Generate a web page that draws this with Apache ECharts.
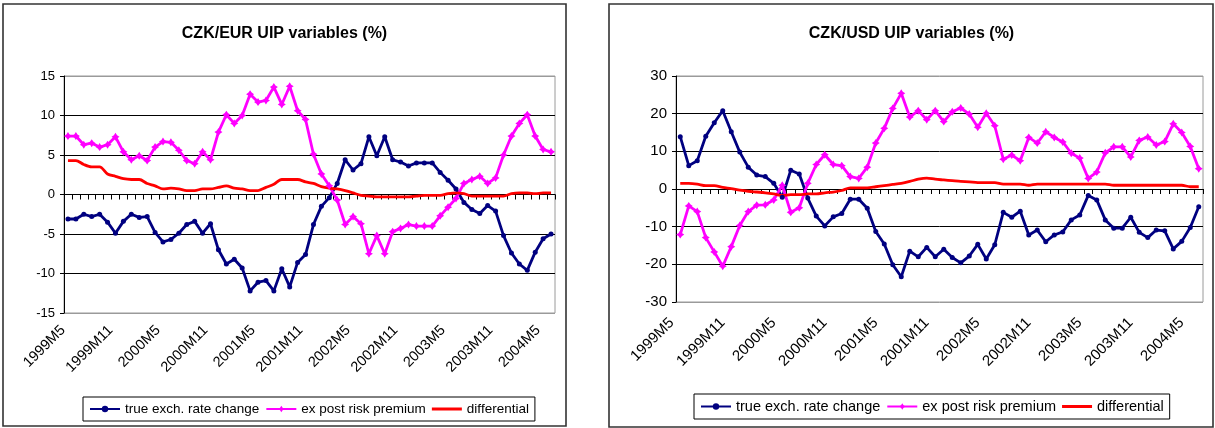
<!DOCTYPE html>
<html>
<head>
<meta charset="utf-8">
<script src="https://cdn.jsdelivr.net/npm/echarts@6/dist/echarts.min.js"></script>
<style>
  html, body { margin: 0; padding: 0; background: #fff; }
  #chart { width: 1215px; height: 428px; }
</style>
</head>
<body>
<div id="chart"></div>
<script>
// Monthly observations, 1999M5 - 2004M6
const months = [
  '1999M5','1999M6','1999M7','1999M8','1999M9','1999M10','1999M11','1999M12',
  '2000M1','2000M2','2000M3','2000M4','2000M5','2000M6','2000M7','2000M8','2000M9','2000M10','2000M11','2000M12',
  '2001M1','2001M2','2001M3','2001M4','2001M5','2001M6','2001M7','2001M8','2001M9','2001M10','2001M11','2001M12',
  '2002M1','2002M2','2002M3','2002M4','2002M5','2002M6','2002M7','2002M8','2002M9','2002M10','2002M11','2002M12',
  '2003M1','2003M2','2003M3','2003M4','2003M5','2003M6','2003M7','2003M8','2003M9','2003M10','2003M11','2003M12',
  '2004M1','2004M2','2004M3','2004M4','2004M5','2004M6'
];

const seriesNames = ['true exch. rate change', 'ex post risk premium', 'differential'];

// CZK/EUR (%)
const eurTrueChange = [
  -3.1, -3.1, -2.5, -2.8, -2.5, -3.5, -4.9, -3.4, -2.5, -2.9,
  -2.8, -4.8, -6.0, -5.7, -4.9, -3.8, -3.4, -4.9, -3.7, -7.0,
  -8.8, -8.2, -9.3, -12.2, -11.1, -10.9, -12.2, -9.4, -11.7, -8.6,
  -7.6, -3.8, -1.5, -0.4, 1.4, 4.4, 3.1, 3.9, 7.3, 4.9,
  7.3, 4.4, 4.1, 3.6, 4.0, 4.0, 4.0, 2.8, 1.8, 0.7,
  -1.0, -1.9, -2.4, -1.4, -2.1, -5.2, -7.4, -8.8, -9.6, -7.3,
  -5.6, -5.0
];
const eurRiskPremium = [
  7.4, 7.4, 6.3, 6.5, 6.0, 6.3, 7.3, 5.4, 4.4, 4.9,
  4.3, 6.0, 6.7, 6.6, 5.6, 4.3, 3.9, 5.4, 4.4, 7.9,
  10.1, 9.0, 10.0, 12.7, 11.7, 11.9, 13.6, 11.4, 13.7, 10.6,
  9.5, 5.1, 2.6, 1.1, -0.7, -3.8, -2.8, -3.7, -7.5, -5.2,
  -7.5, -4.7, -4.3, -3.8, -4.0, -4.0, -4.0, -2.7, -1.6, -0.5,
  1.4, 1.9, 2.3, 1.4, 2.1, 5.0, 7.4, 9.0, 10.1, 7.4,
  5.7, 5.4
];
const eurDifferential = [
  4.3, 4.3, 3.8, 3.5, 3.5, 2.6, 2.3, 2.0, 1.9, 1.9,
  1.4, 1.1, 0.7, 0.8, 0.7, 0.5, 0.5, 0.7, 0.7, 0.9,
  1.1, 0.8, 0.7, 0.5, 0.5, 0.9, 1.3, 1.9, 1.9, 1.9,
  1.6, 1.4, 1.0, 0.8, 0.7, 0.5, 0.2, -0.1, -0.2, -0.3,
  -0.3, -0.3, -0.3, -0.3, -0.2, -0.1, -0.1, -0.1, 0.1, 0.2,
  0.1, -0.2, -0.2, -0.2, -0.2, -0.2, 0.1, 0.2, 0.2, 0.1,
  0.2, 0.2
];

// CZK/USD (%)
const usdTrueChange = [
  13.9, 6.2, 7.5, 14.0, 17.6, 20.8, 15.2, 9.8, 5.8, 3.7,
  3.3, 1.5, -2.2, 5.0, 4.0, -2.4, -7.2, -9.8, -7.4, -6.5,
  -2.7, -2.7, -5.1, -11.3, -14.6, -20.1, -23.3, -16.5, -18.0, -15.5,
  -18.0, -16.0, -18.2, -19.6, -17.8, -14.7, -18.6, -14.8, -6.2, -7.5,
  -5.9, -12.2, -10.9, -14.0, -12.2, -11.4, -8.2, -6.9, -1.7, -2.9,
  -8.2, -10.4, -10.4, -7.5, -11.5, -12.9, -10.9, -11.1, -15.9, -13.9,
  -10.2, -4.7
];
const usdRiskPremium = [
  -12.1, -4.5, -6.0, -12.9, -16.7, -20.5, -15.3, -9.7, -6.0, -4.3,
  -4.2, -2.9, 1.0, -6.2, -5.0, 1.5, 6.5, 9.1, 6.5, 6.2,
  3.3, 2.8, 5.8, 12.2, 16.1, 21.4, 25.4, 19.1, 20.8, 18.4,
  20.8, 17.9, 20.5, 21.5, 19.9, 16.4, 20.1, 16.8, 7.9, 9.0,
  7.5, 13.7, 12.2, 15.2, 13.7, 12.5, 9.5, 8.2, 2.8, 4.5,
  9.6, 11.2, 11.2, 8.5, 12.9, 13.8, 11.7, 12.6, 17.3, 15.0,
  11.3, 5.4
];
const usdDifferential = [
  1.5, 1.5, 1.3, 0.9, 0.9, 0.4, 0.1, -0.3, -0.6, -0.8,
  -1.0, -1.3, -1.7, -1.5, -1.5, -1.3, -1.3, -1.0, -0.8, -0.4,
  0.3, 0.3, 0.3, 0.6, 0.9, 1.2, 1.5, 2.0, 2.6, 2.9,
  2.6, 2.4, 2.2, 2.0, 1.9, 1.7, 1.7, 1.7, 1.3, 1.3,
  1.3, 1.0, 1.3, 1.3, 1.3, 1.3, 1.3, 1.3, 1.3, 1.3,
  1.3, 1.0, 1.0, 1.0, 1.0, 1.0, 1.0, 1.0, 1.0, 1.0,
  0.6, 0.6
];

const FONT = 'Liberation Sans, Arial, sans-serif';
const NAVY = '#000080', MAGENTA = '#FF00FF', RED = '#FF0000';
const STAR = 'path://M0,-10 L4,-4 L10,0 L4,4 L0,10 L-4,4 L-10,0 L-4,-4 Z';
const BAR = 'path://M0,0 L30,0 L30,3 L0,3 Z';

// One panel = box, title, grid, two category axes (labels at the bottom,
// tick line on zero), a value axis, a legend and three line series.
function panel(idx, cfg) {
  const gridLines = ['#9a9a9a', '#000', '#000', '#000', '#000', '#000', '#9a9a9a'];
  return {
    grid: {
      left: cfg.grid[0], top: cfg.grid[1], width: cfg.grid[2], height: cfg.grid[3],
      show: true, borderColor: '#9a9a9a', borderWidth: 1, backgroundColor: 'transparent'
    },
    xAxes: [
      {
        type: 'category', gridIndex: idx, data: months, position: 'bottom', boundaryGap: true,
        axisLine: { show: false, onZero: false },
        axisTick: { show: false },
        splitLine: { show: false },
        axisLabel: {
          rotate: 45, interval: 5, margin: cfg.xLabelMargin,
          padding: [0, cfg.xLabelShift, 0, 0],
          fontFamily: FONT, fontSize: cfg.xFont, color: '#000'
        }
      },
      {
        type: 'category', gridIndex: idx, data: months, position: 'bottom', boundaryGap: true,
        axisLine: { show: true, onZero: true, lineStyle: { color: '#000', width: 1 } },
        axisTick: { show: true, interval: 0, length: 5, lineStyle: { color: '#000', width: 1 } },
        axisLabel: { show: false },
        splitLine: { show: false }
      }
    ],
    yAxis: {
      type: 'value', gridIndex: idx, min: cfg.yMin, max: cfg.yMax, interval: cfg.yStep,
      axisLine: { show: true, lineStyle: { color: '#000', width: 1 } },
      axisTick: { show: true, length: 4, lineStyle: { color: '#000' } },
      axisLabel: { fontFamily: FONT, fontSize: cfg.yFont, color: '#000', margin: 9 },
      splitLine: { show: true, lineStyle: { color: gridLines, width: 1 } }
    },
    legend: {
      left: cfg.legend[0], top: cfg.legend[1], orient: 'horizontal',
      data: [seriesNames[0], seriesNames[1], { name: seriesNames[2], icon: BAR }],
      borderColor: '#000', borderWidth: 1, padding: cfg.legendPad,
      itemGap: 6, itemWidth: 30, itemHeight: 8,
      textStyle: { fontFamily: FONT, fontSize: cfg.legendFont, color: '#000' }
    },
    series: [
      {
        name: seriesNames[0], type: 'line', xAxisIndex: idx * 2, yAxisIndex: idx,
        data: cfg.data[0], symbol: 'circle', symbolSize: 5,
        showSymbol: true, showAllSymbol: true,
        lineStyle: { color: NAVY, width: 2.8 }, itemStyle: { color: NAVY },
        animation: false
      },
      {
        name: seriesNames[1], type: 'line', xAxisIndex: idx * 2, yAxisIndex: idx,
        data: cfg.data[1], symbol: STAR, symbolSize: 8,
        showSymbol: true, showAllSymbol: true,
        lineStyle: { color: MAGENTA, width: 2.8 }, itemStyle: { color: MAGENTA },
        animation: false
      },
      {
        name: seriesNames[2], type: 'line', xAxisIndex: idx * 2, yAxisIndex: idx,
        data: cfg.data[2], symbol: 'none', smooth: 0.3,
        lineStyle: { color: RED, width: 2.8 }, itemStyle: { color: RED },
        animation: false
      }
    ],
    box: { type: 'rect', shape: { x: cfg.box[0], y: cfg.box[1], width: cfg.box[2], height: cfg.box[3] },
           style: { fill: 'none', stroke: '#333', lineWidth: 1.6 }, silent: true },
    title: { type: 'text', x: cfg.title[1], y: cfg.title[2],
             style: { text: cfg.title[0], textAlign: 'center', textVerticalAlign: 'middle',
                      font: 'bold ' + cfg.titleFont + 'px ' + FONT, fill: '#000' } }
  };
}

const left = panel(0, {
  box: [3, 4, 563, 422],
  title: ['CZK/EUR UIP variables (%)', 284.5, 34],
  titleFont: 16,
  grid: [64, 76, 491, 237],
  yMin: -15, yMax: 15, yStep: 5, yFont: 13,
  xFont: 14.5, xLabelMargin: 10, xLabelShift: 7,
  legend: [83, 397], legendPad: [5, 6, 5, 6], legendFont: 13.5,
  data: [eurTrueChange, eurRiskPremium, eurDifferential]
});

const right = panel(1, {
  box: [609, 4, 604, 423],
  title: ['CZK/USD UIP variables (%)', 911.5, 34],
  titleFont: 16,
  grid: [676, 76, 527, 226],
  yMin: -30, yMax: 30, yStep: 10, yFont: 15,
  xFont: 15, xLabelMargin: 10, xLabelShift: 12,
  legend: [694, 394], legendPad: [5, 6, 5, 6], legendFont: 14.5,
  data: [usdTrueChange, usdRiskPremium, usdDifferential]
});

const chart = echarts.init(document.getElementById('chart'), null, { renderer: 'canvas' });
chart.setOption({
  backgroundColor: '#fff',
  animation: false,
  textStyle: { fontFamily: FONT },
  grid: [left.grid, right.grid],
  xAxis: [...left.xAxes, ...right.xAxes],
  yAxis: [left.yAxis, right.yAxis],
  legend: [left.legend, right.legend],
  series: [...left.series, ...right.series],
  graphic: [left.box, right.box, left.title, right.title]
});
</script>
</body>
</html>
